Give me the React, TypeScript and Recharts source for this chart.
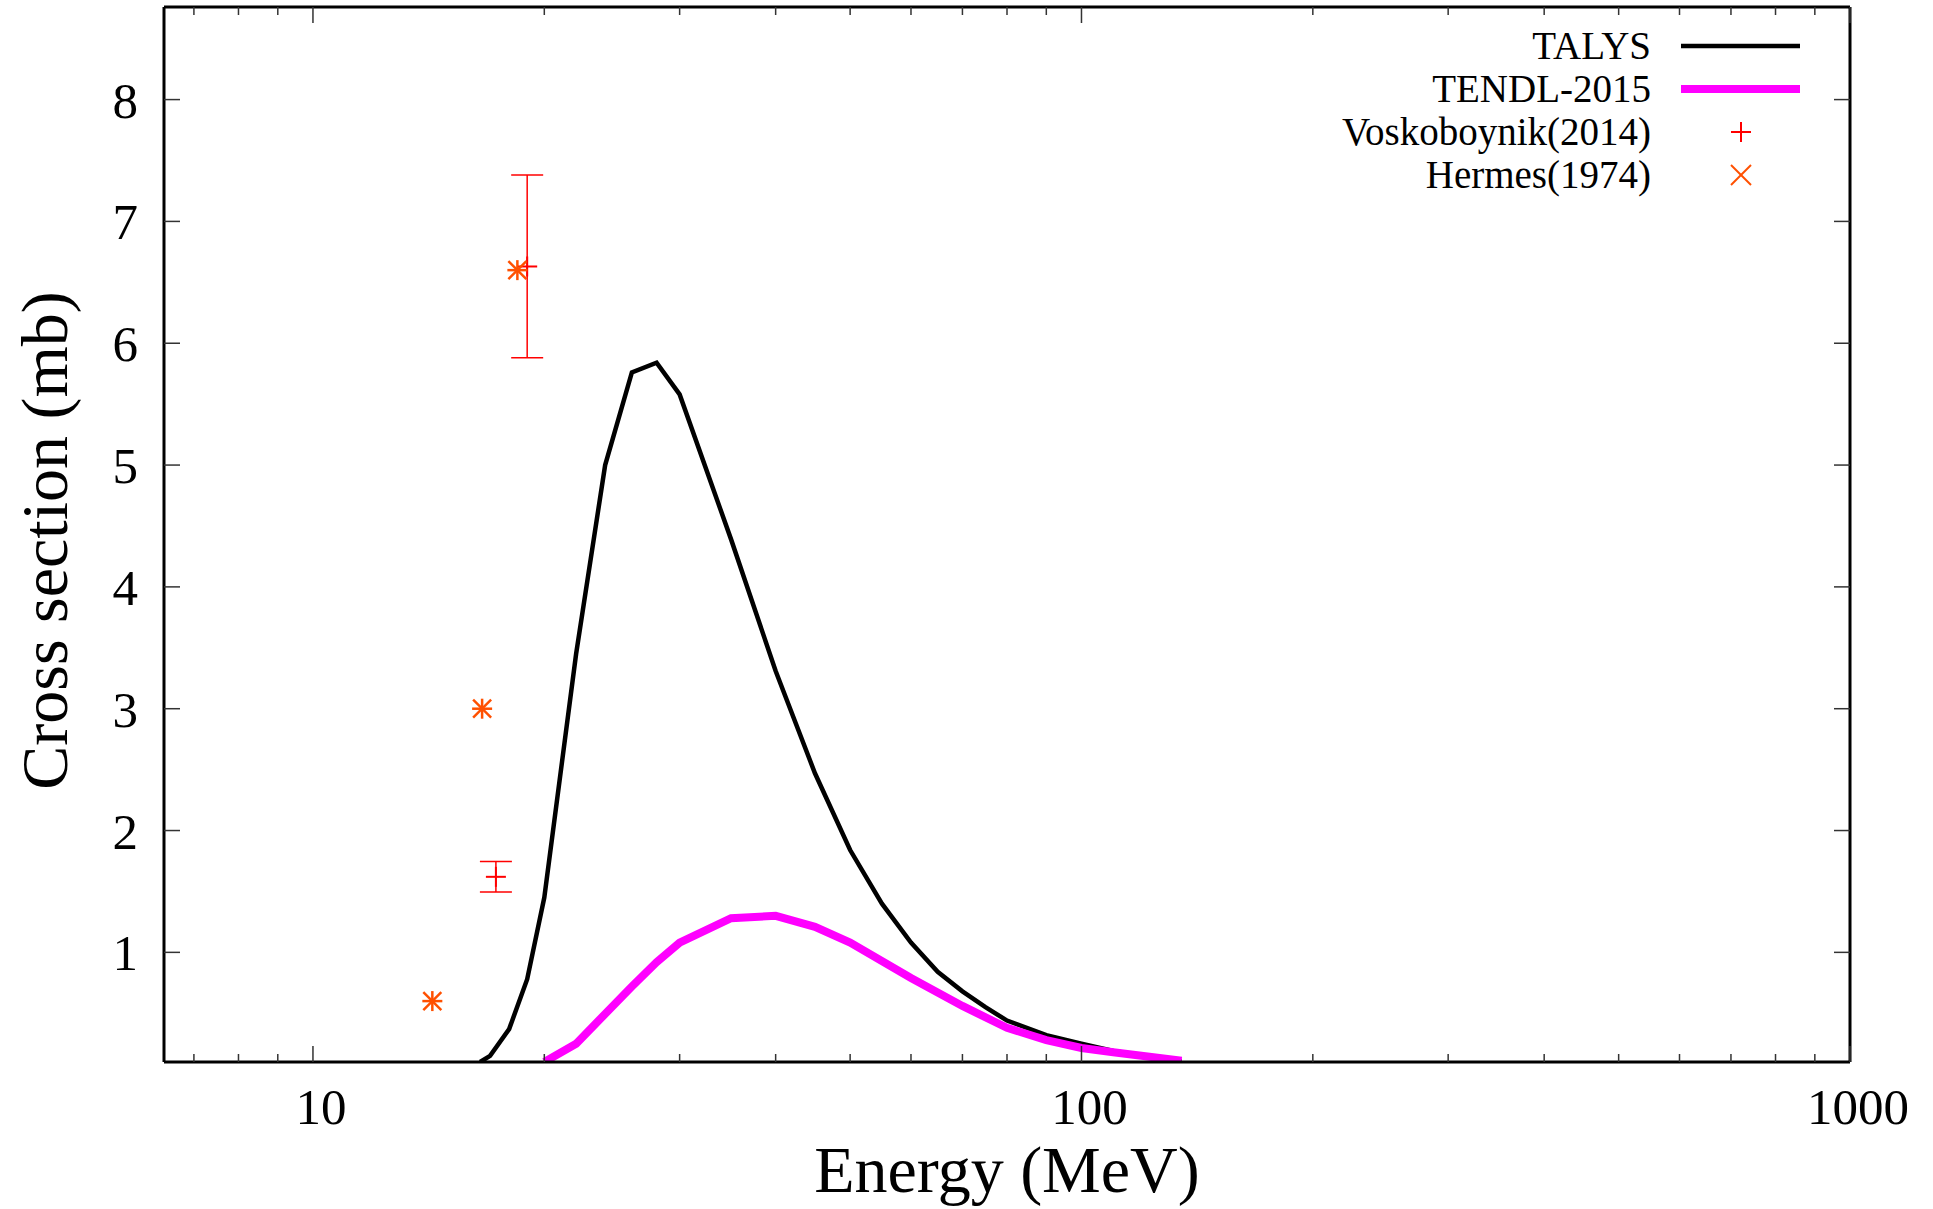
import { ComposedChart, Line, Scatter, XAxis, YAxis, ErrorBar, Legend } from 'recharts'

// TALYS and TENDL-2015 curves, energy in MeV, cross section in mb
const talysEnergy = [16.5, 17, 18, 19, 20, 22, 24, 26, 28, 30, 35, 40, 45, 50, 55, 60, 65, 70, 75, 80, 90, 100, 110, 135]
const talysSigma = [0.1, 0.15, 0.37, 0.78, 1.45, 3.45, 5.0, 5.76, 5.84, 5.58, 4.39, 3.31, 2.47, 1.84, 1.4, 1.08, 0.84, 0.68, 0.55, 0.44, 0.32, 0.25, 0.19, 0.105]

const tendlEnergy = [20, 22, 26, 28, 30, 35, 40, 45, 50, 60, 70, 80, 90, 100, 110, 135]
const tendlSigma = [0.1, 0.25, 0.72, 0.92, 1.08, 1.28, 1.3, 1.21, 1.08, 0.79, 0.56, 0.38, 0.28, 0.215, 0.18, 0.11]

// experimental points
const voskEnergy = [17.3, 19.0]
const voskSigma = [1.62, 6.63]
const voskError = [0.125, 0.75]

const hermesEnergy = [14.3, 16.6, 18.45]
const hermesSigma = [0.6, 3.0, 6.6]

const xMajor = [10, 100, 1000]
const xMinor = [7, 8, 9, 20, 30, 40, 50, 60, 70, 80, 90, 200, 300, 400, 500, 600, 700, 800, 900]
const yTicks = [1, 2, 3, 4, 5, 6, 7, 8]

const talys = talysEnergy.map((x, i) => ({ x, y: talysSigma[i] }))
const tendl = tendlEnergy.map((x, i) => ({ x, y: tendlSigma[i] }))
const vosk = voskEnergy.map((x, i) => ({ x, y: voskSigma[i], err: voskError[i] }))
const hermes = hermesEnergy.map((x, i) => ({ x, y: hermesSigma[i] }))

const FONT = "'Liberation Serif', 'Times New Roman', serif"
const TICK = '#333'
const VOSK = '#ff0000'
const HERMES = '#ff5000'
const xTicks = [...xMajor, ...xMinor].sort((a, b) => a - b)

function BottomTick({ x, y, payload }: any) {
  const major = xMajor.includes(payload.value)
  return (
    <g>
      <line x1={x} x2={x} y1={y} y2={y - (major ? 16 : 8)} stroke={TICK} strokeWidth={1.5} />
      {major && (
        <text x={x + 8} y={y + 62} textAnchor="middle" fontSize={51} fontFamily={FONT} fill="#000">
          {payload.value}
        </text>
      )}
    </g>
  )
}

function TopTick({ x, y, payload }: any) {
  const major = xMajor.includes(payload.value)
  return <line x1={x} x2={x} y1={y} y2={y + (major ? 16 : 8)} stroke={TICK} strokeWidth={1.5} />
}

function LeftTick({ x, y, payload }: any) {
  return (
    <g>
      <line x1={x} x2={x + 16} y1={y} y2={y} stroke={TICK} strokeWidth={1.5} />
      <text x={x - 26} y={y + 18} textAnchor="end" fontSize={51} fontFamily={FONT} fill="#000">
        {payload.value}
      </text>
    </g>
  )
}

function RightTick({ x, y }: any) {
  return <line x1={x} x2={x - 16} y1={y} y2={y} stroke={TICK} strokeWidth={1.5} />
}

function PlusMark({ cx, cy }: any) {
  return (
    <g stroke={VOSK} strokeWidth={2}>
      <line x1={cx - 10} x2={cx + 10} y1={cy} y2={cy} />
      <line x1={cx} x2={cx} y1={cy - 10} y2={cy + 10} />
    </g>
  )
}

function StarMark({ cx, cy }: any) {
  return (
    <g stroke={HERMES} strokeWidth={2.5}>
      <line x1={cx - 10} x2={cx + 10} y1={cy} y2={cy} />
      <line x1={cx} x2={cx} y1={cy - 10} y2={cy + 10} />
      <line x1={cx - 9} x2={cx + 9} y1={cy - 9} y2={cy + 9} />
      <line x1={cx - 9} x2={cx + 9} y1={cy + 9} y2={cy - 9} />
    </g>
  )
}

function XTitle({ viewBox }: any) {
  return (
    <text x={viewBox.x + viewBox.width / 2} y={viewBox.y + 130} textAnchor="middle" fontSize={66} fontFamily={FONT} fill="#000">
      Energy (MeV)
    </text>
  )
}

function YTitle({ viewBox }: any) {
  const cx = viewBox.x - 119
  const cy = viewBox.y + viewBox.height / 2 + 6
  return (
    <text
      x={cx}
      y={cy}
      transform={`rotate(-90 ${cx} ${cy})`}
      textAnchor="middle"
      dominantBaseline="central"
      fontSize={66}
      fontFamily={FONT}
      fill="#000"
    >
      Cross section (mb)
    </text>
  )
}

function KeyBox() {
  const rows = ['TALYS', 'TENDL-2015', 'Voskoboynik(2014)', 'Hermes(1974)']
  return (
    <svg width={600} height={210}>
      {rows.map((r, i) => (
        <text key={r} x={371} y={59 + i * 43} textAnchor="end" fontSize={39} fontFamily={FONT} fill="#000">
          {r}
        </text>
      ))}
      <line x1={401} x2={520} y1={46} y2={46} stroke="#000" strokeWidth={4.5} />
      <line x1={401} x2={520} y1={89} y2={89} stroke="#ff00ff" strokeWidth={8} />
      <PlusMark cx={461} cy={132} />
      <g stroke={HERMES} strokeWidth={2}>
        <line x1={451} x2={471} y1={165} y2={185} />
        <line x1={451} x2={471} y1={185} y2={165} />
      </g>
    </svg>
  )
}

export default function App() {
  return (
    <div style={{ position: 'absolute', left: 0, top: 0, background: '#fff' }}>
      <ComposedChart width={1933} height={1209} margin={{ top: 6, right: 82, bottom: 146, left: 163 }}>
        <XAxis
          xAxisId="b"
          dataKey="x"
          type="number"
          scale="log"
          domain={[6.4, 1000]}
          allowDataOverflow
          ticks={xTicks}
          interval={0}
          height={1}
          tickSize={0}
          tickMargin={0}
          tick={(p: any) => <BottomTick {...p} />}
          axisLine={{ stroke: '#000', strokeWidth: 3 }}
          label={<XTitle />}
        />
        <XAxis
          xAxisId="t"
          orientation="top"
          dataKey="x"
          type="number"
          scale="log"
          domain={[6.4, 1000]}
          allowDataOverflow
          ticks={xTicks}
          interval={0}
          height={1}
          tickSize={0}
          tickMargin={0}
          tick={(p: any) => <TopTick {...p} />}
          axisLine={{ stroke: '#000', strokeWidth: 3 }}
        />
        <YAxis
          yAxisId="l"
          dataKey="y"
          type="number"
          domain={[0.1, 8.76]}
          allowDataOverflow
          ticks={yTicks}
          interval={0}
          width={1}
          tickSize={0}
          tickMargin={0}
          tick={(p: any) => <LeftTick {...p} />}
          axisLine={{ stroke: '#000', strokeWidth: 3 }}
          label={<YTitle />}
        />
        <YAxis
          yAxisId="r"
          orientation="right"
          dataKey="y"
          type="number"
          domain={[0.1, 8.76]}
          allowDataOverflow
          ticks={yTicks}
          interval={0}
          width={1}
          tickSize={0}
          tickMargin={0}
          tick={(p: any) => <RightTick {...p} />}
          axisLine={{ stroke: '#000', strokeWidth: 3 }}
        />
        <Legend
          layout="horizontal"
          verticalAlign="middle"
          align="center"
          content={() => <KeyBox />}
          wrapperStyle={{ left: 1280, top: 0, width: 600, height: 210 }}
        />
        <Line
          xAxisId="b"
          yAxisId="l"
          data={talys}
          dataKey="y"
          type="linear"
          stroke="#000"
          strokeWidth={4.5}
          dot={false}
          isAnimationActive={false}
        />
        <Line
          xAxisId="b"
          yAxisId="l"
          data={tendl}
          dataKey="y"
          type="linear"
          stroke="#ff00ff"
          strokeWidth={8}
          dot={false}
          isAnimationActive={false}
        />
        <Scatter xAxisId="b" yAxisId="l" data={vosk} dataKey="y" shape={<PlusMark />} isAnimationActive={false}>
          <ErrorBar dataKey="err" direction="y" width={16} stroke={VOSK} strokeWidth={1.5} isAnimationActive={false} />
        </Scatter>
        <Scatter xAxisId="b" yAxisId="l" data={hermes} dataKey="y" shape={<StarMark />} isAnimationActive={false} />
      </ComposedChart>
    </div>
  )
}
